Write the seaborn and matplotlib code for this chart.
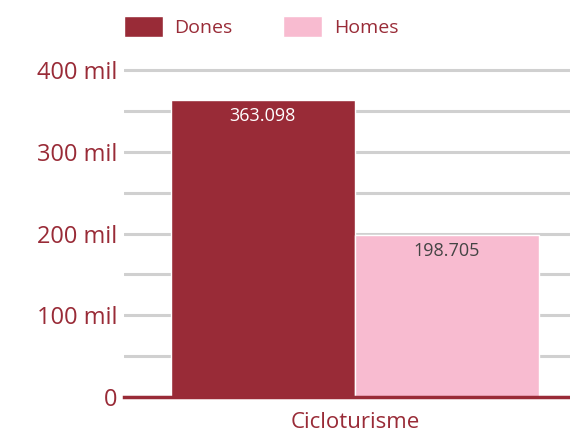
import matplotlib
matplotlib.use("Agg")
import matplotlib.pyplot as plt
import seaborn as sns
import pandas as pd
from matplotlib.ticker import MultipleLocator, FuncFormatter

categories = ["Cicloturisme"]
series = ["Dones", "Homes"]
dones = [363098]
homes = [198705]
value_labels = ["363.098", "198.705"]

dark_red = "#992B37"
pink = "#F8BBD0"

df = pd.DataFrame({
    "categoria": categories * 2,
    "sexe": [series[0]] * len(dones) + [series[1]] * len(homes),
    "valor": dones + homes,
})

sns.set_style("white")
plt.rcParams["font.family"] = ["Open Sans", "DejaVu Sans"]

fig = plt.figure(figsize=(5.7, 4.34), dpi=100)
ax = fig.add_axes([124 / 570, 37 / 434, 446 / 570, (397 - 62) / 434])

sns.barplot(data=df, x="categoria", y="valor", hue="sexe",
            palette=[dark_red, pink], width=0.8, saturation=1,
            edgecolor="white", linewidth=1, ax=ax, legend=True)

ax.set_xlim(-0.502, 0.468)
ax.set_ylim(0, 410000)
ax.yaxis.set_major_locator(MultipleLocator(100000))
ax.yaxis.set_minor_locator(MultipleLocator(50000))
ax.yaxis.set_major_formatter(FuncFormatter(lambda v, p: "0" if v == 0 else f"{int(v / 1000)} mil"))
ax.grid(axis="y", which="both", color="#D0D0D0", linewidth=2.2)
ax.set_axisbelow(True)
ax.tick_params(axis="y", which="both", length=0, labelsize=17, labelcolor=dark_red, pad=5)
ax.tick_params(axis="x", length=0, labelsize=16, labelcolor=dark_red, pad=11)
ax.set_xlabel("")
ax.set_ylabel("")
for s in ["left", "right", "top"]:
    ax.spines[s].set_visible(False)
ax.spines["bottom"].set_color(dark_red)
ax.spines["bottom"].set_linewidth(2.5)

label_colors = ["white", "#444444"]
for cont, lab, col in zip(ax.containers, value_labels, label_colors):
    ax.bar_label(cont, labels=[lab], label_type="edge", padding=-18,
                 color=col, fontsize=13)

leg = ax.legend(loc="lower left", bbox_to_anchor=(0, 1.075), ncol=2, frameon=False,
                fontsize=14, handlelength=2.0, handleheight=1.3, columnspacing=2.6,
                handletextpad=0.6, borderaxespad=0, borderpad=0)
for t in leg.get_texts():
    t.set_color(dark_red)

fig.savefig("out.png", dpi=100)
